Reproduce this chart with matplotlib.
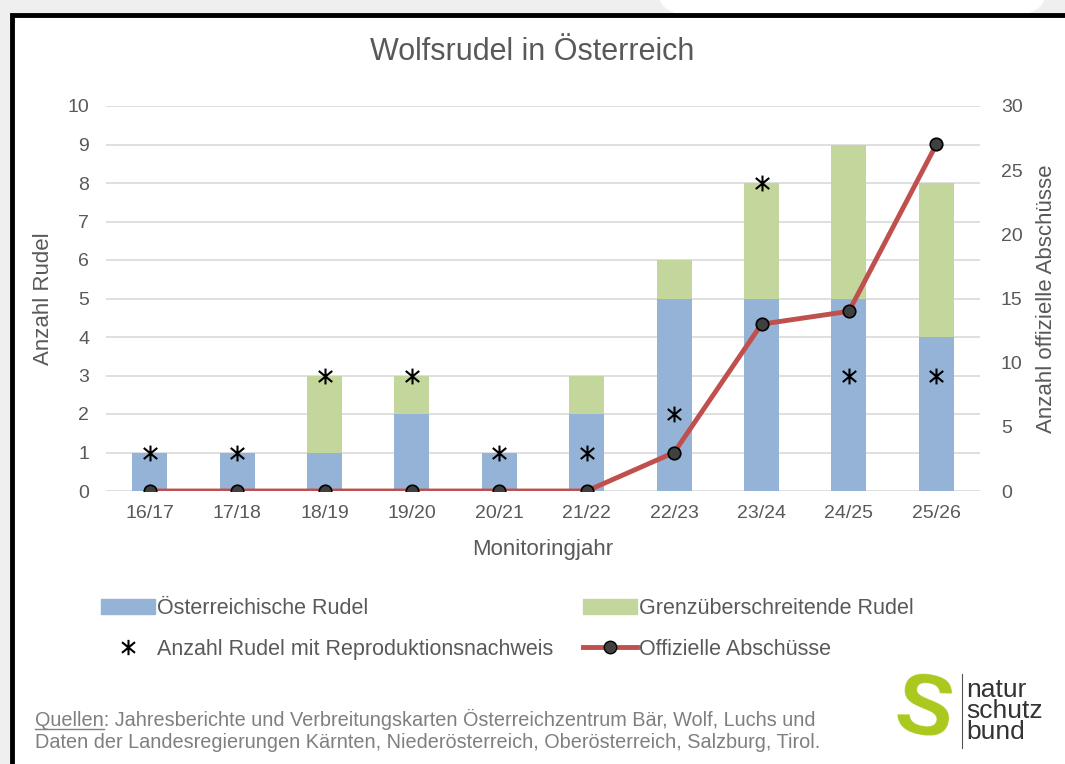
import numpy as np
import matplotlib.pyplot as plt
from matplotlib.lines import Line2D
from matplotlib.patches import Patch, Rectangle, Ellipse
from matplotlib.path import Path

plt.rcParams['font.family'] = ['Liberation Sans', 'DejaVu Sans']

jahre = ['16/17', '17/18', '18/19', '19/20', '20/21', '21/22', '22/23', '23/24', '24/25', '25/26']
oesterreich = [1, 1, 1, 2, 1, 2, 5, 5, 5, 4]
grenz = [0, 0, 2, 1, 0, 1, 1, 3, 4, 4]
reproduktion = [1, 1, 3, 3, 1, 1, 2, 8, 3, 3]
abschuesse = [0, 0, 0, 0, 0, 0, 3, 13, 14, 27]

blau = '#95b3d7'
gruen = '#c3d69b'
rot = '#c0504d'
grau = '#595959'

# asterisk: vertical stroke plus an X
stern = Path([(0, -1), (0, 1), (-0.85, -0.7), (0.85, 0.7), (-0.85, 0.7), (0.85, -0.7)],
             [Path.MOVETO, Path.LINETO] * 3)

fig = plt.figure(figsize=(10.65, 7.64), dpi=100, facecolor='#efefef')

# white frame with black border
fig.patches.append(Ellipse((0.80, 1.0), 0.36, 0.09, transform=fig.transFigure,
                           facecolor='white', edgecolor='none', zorder=0))
fig.patches.append(Rectangle((12 / 1065, -0.05), 1.1, 1 - 15 / 764 + 0.05,
                             transform=fig.transFigure, facecolor='white',
                             edgecolor='black', linewidth=3.5, zorder=1))

ax = fig.add_axes([106 / 1065, 1 - 491 / 764, 874 / 1065, 385 / 764])
ax.set_zorder(2)
ax.patch.set_visible(False)
x = np.arange(len(jahre))
ax.bar(x, oesterreich, width=0.4, color=blau, zorder=2)
ax.bar(x, grenz, width=0.4, bottom=oesterreich, color=gruen, zorder=2)
ax.scatter(x, reproduktion, marker=stern, s=130, color='black', linewidths=1.5, zorder=4)
ax.set_ylim(0, 10)
ax.set_xlim(-0.5, len(jahre) - 0.5)
ax.set_yticks(range(0, 11))
ax.yaxis.grid(True, color='#d9d9d9', linewidth=1.2, zorder=0)
ax.set_axisbelow(True)
ax.set_xticks(x)
ax.set_xticklabels(jahre)
for s in ax.spines.values():
    s.set_visible(False)
ax.tick_params(length=0, labelsize=14, labelcolor=grau, pad=12)
ax.tick_params(axis='x', pad=10)
ax.set_ylabel('Anzahl Rudel', fontsize=16, color=grau, labelpad=10)
ax.set_xlabel('Monitoringjahr', fontsize=16, color=grau, labelpad=12)

ax2 = ax.twinx()
ax2.plot(x, abschuesse, color=rot, linewidth=3.5, marker='o', markersize=9,
         markerfacecolor='#404040', markeredgecolor='black', markeredgewidth=1.2, zorder=3)
ax2.set_ylim(0, 30)
ax2.set_yticks(range(0, 31, 5))
for s in ax2.spines.values():
    s.set_visible(False)
ax2.tick_params(length=0, labelsize=14, labelcolor=grau, pad=15)
ax2.set_ylabel('Anzahl offizielle Abschüsse', fontsize=16, color=grau, labelpad=10)

fig.text(0.5, 1 - 52 / 764, 'Wolfsrudel in Österreich', ha='center', va='center',
         fontsize=22, color=grau)

handles = [Patch(color=blau),
           Line2D([], [], linestyle='none', marker=stern, color='black', markersize=11,
                  markeredgewidth=1.5),
           Patch(color=gruen),
           Line2D([], [], color=rot, linewidth=3.5, marker='o', markersize=9,
                  markerfacecolor='#404040', markeredgecolor='black')]
labels = ['Österreichische Rudel', 'Anzahl Rudel mit Reproduktionsnachweis',
          'Grenzüberschreitende Rudel', 'Offizielle Abschüsse']
leg = fig.legend(handles, labels, ncol=2, loc='center left',
                 bbox_to_anchor=(82 / 1065, 1 - 629 / 764), frameon=False,
                 fontsize=15.5, labelcolor=grau, handlelength=2.5, handletextpad=0.08,
                 columnspacing=1.4, labelspacing=0.9)

fig.text(35 / 1065, 1 - 719 / 764,
         'Quellen: Jahresberichte und Verbreitungskarten Österreichzentrum Bär, Wolf, Luchs und',
         fontsize=14.3, color='#7f7f7f', va='center')
fig.text(35 / 1065, 1 - 742 / 764,
         'Daten der Landesregierungen Kärnten, Niederösterreich, Oberösterreich, Salzburg, Tirol.',
         fontsize=14.3, color='#7f7f7f', va='center')
# underline "Quellen"
r = fig.canvas.get_renderer()
tmp = fig.text(35 / 1065, 0.5, 'Quellen', fontsize=14.3)
breite = tmp.get_window_extent(r).width / 1065
tmp.remove()
fig.lines.append(Line2D([35 / 1065, 35 / 1065 + breite], [1 - 729 / 764, 1 - 729 / 764],
                        transform=fig.transFigure, color='#7f7f7f', linewidth=1))

# logo
fig.text(924 / 1065, 1 - 712 / 764, 'S', fontsize=62, fontweight='bold', color='#a9c91d',
         ha='center', va='center', rotation=-10)
fig.lines.append(Line2D([962 / 1065, 962 / 1065], [1 - 674 / 764, 1 - 748 / 764],
                        transform=fig.transFigure, color='#555555', linewidth=0.8))
fig.text(966 / 1065, 1 - 711 / 764, 'natur\nschutz\nbund', fontsize=19, color='#333333',
         va='center', ha='left', linespacing=0.85)

fig.savefig('out.png', dpi=100, facecolor=fig.get_facecolor())
